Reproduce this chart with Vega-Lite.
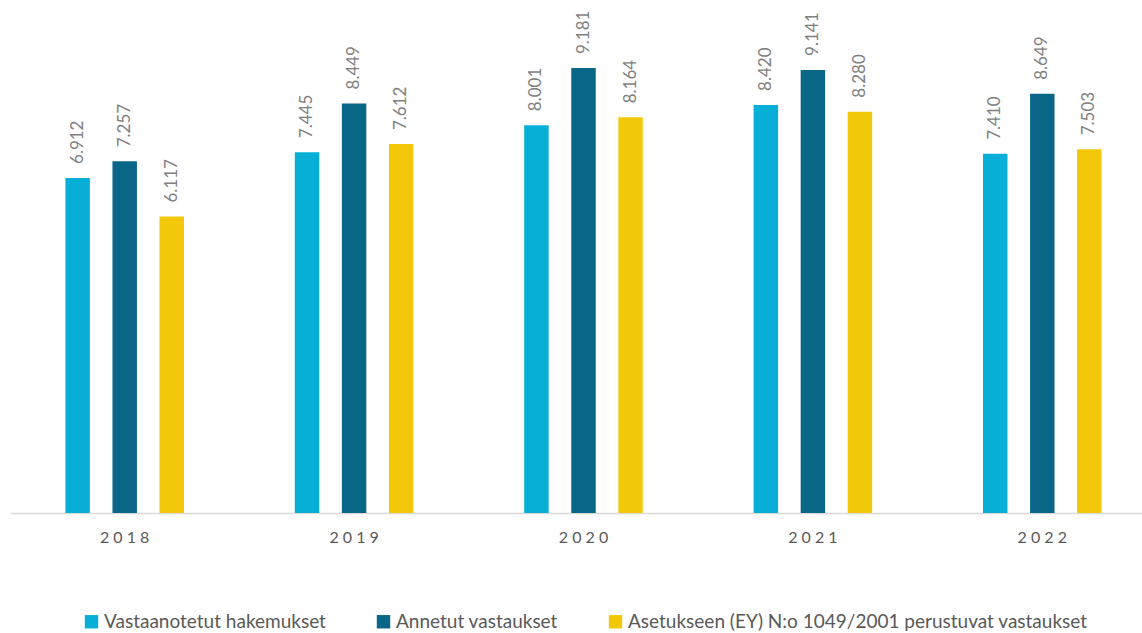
{
  "$schema": "https://vega.github.io/schema/vega-lite/v6.json",
  "width": 1147,
  "height": 513,
  "padding": {"left": 10, "top": 0, "right": 0, "bottom": 0},
  "autosize": {"type": "pad"},
  "config": {"view": {"stroke": null}, "font": "Lato"},
  "data": {
    "values": [
      {"year": "2018", "series": "Vastaanotetut hakemukset", "value": 6.912},
      {"year": "2018", "series": "Annetut vastaukset", "value": 7.257},
      {"year": "2018", "series": "Asetukseen (EY) N:o 1049/2001 perustuvat vastaukset", "value": 6.117},
      {"year": "2019", "series": "Vastaanotetut hakemukset", "value": 7.445},
      {"year": "2019", "series": "Annetut vastaukset", "value": 8.449},
      {"year": "2019", "series": "Asetukseen (EY) N:o 1049/2001 perustuvat vastaukset", "value": 7.612},
      {"year": "2020", "series": "Vastaanotetut hakemukset", "value": 8.001},
      {"year": "2020", "series": "Annetut vastaukset", "value": 9.181},
      {"year": "2020", "series": "Asetukseen (EY) N:o 1049/2001 perustuvat vastaukset", "value": 8.164},
      {"year": "2021", "series": "Vastaanotetut hakemukset", "value": 8.420},
      {"year": "2021", "series": "Annetut vastaukset", "value": 9.141},
      {"year": "2021", "series": "Asetukseen (EY) N:o 1049/2001 perustuvat vastaukset", "value": 8.280},
      {"year": "2022", "series": "Vastaanotetut hakemukset", "value": 7.410},
      {"year": "2022", "series": "Annetut vastaukset", "value": 8.649},
      {"year": "2022", "series": "Asetukseen (EY) N:o 1049/2001 perustuvat vastaukset", "value": 7.503}
    ]
  },
  "encoding": {
    "x": {
      "field": "year",
      "type": "nominal",
      "title": null,
      "scale": {"paddingInner": 0.2, "paddingOuter": 0.1},
      "axis": {
        "labelAngle": 0,
        "ticks": false,
        "domainColor": "#d9d9d9",
        "domainWidth": 1.5,
        "labelFontSize": 16,
        "labelColor": "#595959",
        "labelPadding": 16,
        "labelExpr": "join(split(datum.label, ''), ' ')"
      }
    },
    "xOffset": {
      "field": "series",
      "type": "nominal",
      "sort": ["Vastaanotetut hakemukset", "Annetut vastaukset", "Asetukseen (EY) N:o 1049/2001 perustuvat vastaukset"],
      "scale": {"paddingInner": 0.48, "paddingOuter": 0.69}
    },
    "y": {
      "field": "value",
      "type": "quantitative",
      "scale": {"domain": [0, 10.584], "nice": false},
      "axis": null
    }
  },
  "layer": [
    {
      "mark": {"type": "bar"},
      "encoding": {
        "color": {
          "field": "series",
          "type": "nominal",
          "sort": ["Vastaanotetut hakemukset", "Annetut vastaukset", "Asetukseen (EY) N:o 1049/2001 perustuvat vastaukset"],
          "scale": {
            "domain": ["Vastaanotetut hakemukset", "Annetut vastaukset", "Asetukseen (EY) N:o 1049/2001 perustuvat vastaukset"],
            "range": ["#07AFD6", "#0A6687", "#F1C80A"]
          },
          "legend": {
            "title": null,
            "orient": "none",
            "legendX": 72,
            "legendY": 612,
            "direction": "horizontal",
            "symbolType": "square",
            "symbolSize": 180,
            "symbolStrokeWidth": 0,
            "labelFontSize": 19,
            "labelColor": "#595959",
            "labelLimit": 600,
            "columnPadding": 48,
            "labelOffset": 3
          }
        }
      }
    },
    {
      "mark": {"type": "text", "angle": 270, "align": "left", "baseline": "middle", "dx": 14, "fontSize": 17, "color": "#7f7f7f"},
      "encoding": {
        "text": {"field": "value", "type": "quantitative", "format": ".3f"}
      }
    }
  ]
}
